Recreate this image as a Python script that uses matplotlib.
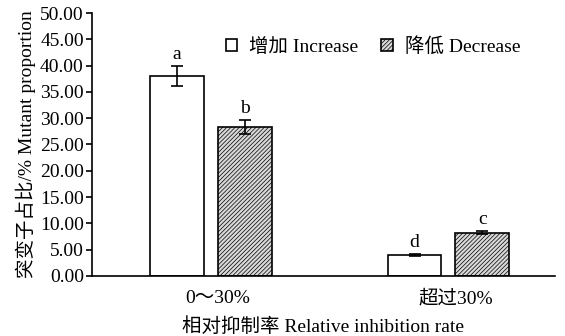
import numpy as np
import matplotlib.pyplot as plt

plt.rcParams['font.family'] = ['Liberation Serif', 'Noto Sans CJK SC']
plt.rcParams['hatch.linewidth'] = 0.5
plt.rcParams['hatch.color'] = '#333333'

groups = ['0～30%', '超过30%']
increase = [38.1, 3.9]
increase_err = [1.9, 0.2]
decrease = [28.3, 8.2]
decrease_err = [1.4, 0.3]
inc_letters = ['a', 'd']
dec_letters = ['b', 'c']

fig = plt.figure(figsize=(5.65, 3.36), dpi=100)
ax = fig.add_axes([0.163, 0.179, 0.819, 0.782])

x = np.arange(len(groups))
w = 0.227
off = 0.143

ax.bar(x - off, increase, w, yerr=increase_err, color='white', edgecolor='black',
       linewidth=1.2, capsize=4, error_kw={'elinewidth': 1.2, 'capthick': 1.2},
       label='增加 Increase')
ax.bar(x + off, decrease, w, yerr=decrease_err, color='#d8d8d8', edgecolor='black',
       linewidth=1.2, hatch='////////', capsize=4,
       error_kw={'elinewidth': 1.2, 'capthick': 1.2}, label='降低 Decrease')

for i in range(len(groups)):
    ax.text(x[i] - off, increase[i] + increase_err[i] + 0.6, inc_letters[i],
            ha='center', va='bottom', fontsize=14)
    ax.text(x[i] + off, decrease[i] + decrease_err[i] + 0.6, dec_letters[i],
            ha='center', va='bottom', fontsize=14)

ax.set_xlim(-0.501, 1.448)
ax.set_ylim(0, 50)
ax.set_yticks(np.arange(0, 50.1, 5))
ax.set_yticklabels([f'{v:.2f}' for v in np.arange(0, 50.1, 5)], fontsize=14)
ax.set_xticks(x + 0.03)
ax.set_xticklabels(groups, fontsize=14)
ax.tick_params(axis='x', length=0, pad=10)
ax.tick_params(axis='y', direction='out', length=4, width=1.2, pad=2)

for s in ['top', 'right']:
    ax.spines[s].set_visible(False)
ax.spines['left'].set_linewidth(1.2)
ax.spines['bottom'].set_linewidth(1.2)

ax.set_ylabel('突变子占比/% Mutant proportion', fontsize=14, labelpad=3)
ax.set_xlabel('相对抑制率 Relative inhibition rate', fontsize=14, labelpad=7)

ax.legend(loc='upper center', bbox_to_anchor=(0.607, 0.975), ncol=2, frameon=False,
          fontsize=14, handlelength=0.6, handleheight=0.6, columnspacing=1.2,
          handletextpad=0.6)

fig.savefig('out.png', dpi=100)
